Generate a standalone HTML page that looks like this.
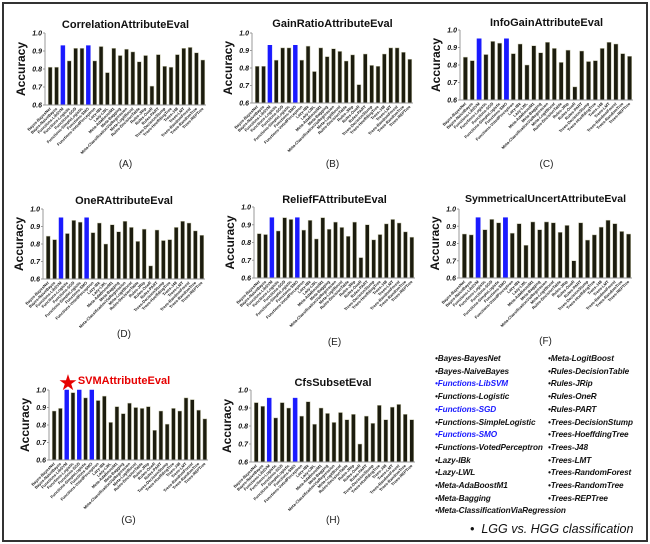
<!DOCTYPE html>
<html><head><meta charset="utf-8">
<style>
body{margin:0;background:#fff;}
#wrap{position:relative;width:650px;height:544px;overflow:hidden;background:#fff;}
#frame{position:absolute;left:2px;top:2px;width:642px;height:536px;border:2px solid #333;}
svg{position:absolute;left:0;top:0;}
.leg{position:absolute;font-family:"Liberation Sans",sans-serif;font-style:italic;font-weight:bold;font-size:8.2px;letter-spacing:-0.1px;color:#111;white-space:nowrap;}
.leg.b{color:#1a1aff;}
</style></head><body>
<div id="wrap">
<div id="frame"></div>
<svg id="svg" width="650" height="544"></svg>
<div id="legend"></div>
<div class="leg" style="left:470px;top:522px;font-size:12.5px;font-weight:normal;letter-spacing:0;">•&nbsp; LGG vs. HGG classification</div>
</div>
<script>
const categories=["Bayes-BayesNet","Bayes-NaiveBayes","Functions-LibSVM","Functions-Logistic","Functions-SGD","Functions-SimpleLogistic","Functions-SMO","Functions-VotedPerceptron","Lazy-IBk","Lazy-LWL","Meta-AdaBoostM1","Meta-Bagging","Meta-ClassificationViaRegression","Meta-LogitBoost","Rules-DecisionTable","Rules-JRip","Rules-OneR","Rules-PART","Trees-DecisionStump","Trees-HoeffdingTree","Trees-J48","Trees-LMT","Trees-RandomForest","Trees-RandomTree","Trees-REPTree"];
const titles=["CorrelationAttributeEval","GainRatioAttributeEval","InfoGainAttributeEval","OneRAttributeEval","ReliefFAttributeEval","SymmetricalUncertAttributeEval","SVMAttributeEval","CfsSubsetEval"];
const panelLabels=["(A)","(B)","(C)","(D)","(E)","(F)","(G)","(H)"];
const yTicks=[0.6,0.7,0.8,0.9,1.0];
const valuesA=[0.81,0.81,0.93,0.845,0.915,0.915,0.93,0.845,0.925,0.78,0.915,0.875,0.91,0.895,0.84,0.875,0.705,0.88,0.815,0.81,0.88,0.915,0.92,0.89,0.85];
const valuesB=[0.81,0.81,0.93,0.845,0.915,0.915,0.93,0.845,0.925,0.78,0.915,0.865,0.91,0.895,0.84,0.875,0.705,0.88,0.815,0.81,0.88,0.915,0.915,0.89,0.85];
const valuesC=[0.845,0.825,0.95,0.86,0.935,0.925,0.95,0.865,0.92,0.8,0.91,0.87,0.93,0.895,0.815,0.885,0.675,0.88,0.82,0.825,0.895,0.93,0.92,0.865,0.85];
const valuesD=[0.845,0.825,0.95,0.86,0.935,0.925,0.95,0.865,0.92,0.8,0.91,0.87,0.93,0.895,0.815,0.885,0.675,0.88,0.82,0.825,0.895,0.93,0.92,0.875,0.85];
const valuesE=[0.85,0.845,0.94,0.865,0.94,0.93,0.94,0.87,0.925,0.82,0.94,0.875,0.915,0.885,0.835,0.915,0.715,0.9,0.815,0.845,0.905,0.93,0.91,0.86,0.83];
const valuesF=[0.855,0.85,0.95,0.88,0.94,0.92,0.95,0.86,0.915,0.79,0.925,0.88,0.925,0.92,0.865,0.905,0.7,0.92,0.82,0.85,0.895,0.935,0.915,0.87,0.855];
const valuesG=[0.88,0.895,1.0,0.985,1.0,0.955,1.0,0.94,0.965,0.815,0.905,0.865,0.925,0.9,0.895,0.905,0.77,0.88,0.805,0.895,0.88,0.955,0.945,0.885,0.835];
const valuesH=[0.93,0.91,0.955,0.845,0.93,0.9,0.955,0.855,0.935,0.81,0.9,0.87,0.82,0.875,0.835,0.865,0.7,0.855,0.815,0.915,0.835,0.905,0.92,0.865,0.835];
const blueA=[2,6],blueB=[2,6],blueC=[2,6],blueD=[2,6],blueE=[2,6],blueF=[2,6],blueG=[2,4,6],blueH=[2,6];
const allValues=[valuesA,valuesB,valuesC,valuesD,valuesE,valuesF,valuesG,valuesH];
const allBlue=[blueA,blueB,blueC,blueD,blueE,blueF,blueG,blueH];
// layout: [axisX, yTop, yBottom, barsEnd, titleY, labelY]
const layouts=[[45,33,105,206,28,167],[252,33,103,413,27,167],[460,30,100,633,26,167],[43,209,279,205,204,337],[254,207,278,415,203,345],[459,209,278,632,202,344],[49,390,460,208,384,523],[251,390,462,415,386,523]];
const NS="http://www.w3.org/2000/svg";
const svg=document.getElementById('svg');
function mk(tag,attrs,parent){const e=document.createElementNS(NS,tag);for(const k in attrs)e.setAttribute(k,attrs[k]);(parent||svg).appendChild(e);return e;}
allValues.forEach((vals,ci)=>{
  const [ax,yt,yb,xe,ty,ly]=layouts[ci];
  const g=mk('g',{});
  
  
  const yScale=v=>yb-(v-0.6)/0.4*(yb-yt);
  const n=categories.length, step=(xe-ax-2)/n, bw=step*0.62;
  const xScale=i=>ax+2+i*step+(step-bw)/2;
  const t=mk('text',{x:(ax+xe)/2,y:ty,'text-anchor':'middle','font-family':'Liberation Sans, sans-serif','font-weight':'bold','font-size':ci==5?'10.5':'11',fill:'#111'},g);
  t.textContent=titles[ci];
  
  
  if(ci==6){
    const s=mk('text',{x:ax+19,y:ty+6,'text-anchor':'middle','font-size':'22',fill:'#e60000','font-family':'DejaVu Sans, sans-serif'},g);
    s.textContent='★';
    
    
    t.setAttribute('fill','#e60000');t.setAttribute('x',ax+75);
  }
  const yl=mk('text',{x:0,y:0,transform:`translate(${ax-20},${(yt+yb)/2}) rotate(-90)`,'text-anchor':'middle','font-family':'Liberation Sans, sans-serif','font-weight':'bold','font-size':'12',fill:'#111'},g);
  yl.textContent='Accuracy';
  
  
  yTicks.forEach(v=>{
    const y=yScale(v);
    mk('line',{x1:ax-2,x2:ax,y1:y,y2:y,stroke:'#999','stroke-width':1},g);
    const tt=mk('text',{x:ax-3,y:y+2.5,'text-anchor':'end','font-family':'Liberation Sans, sans-serif','font-weight':'bold','font-style':'italic','font-size':'7',fill:'#111'},g);
    tt.textContent=v.toFixed(1);
    
    
  });
  vals.forEach((v,i)=>{
    const blue=allBlue[ci].includes(i);
    const r=mk('rect',{x:xScale(i),y:yScale(v),width:bw,height:yb-yScale(v),fill:blue?'#1a1aff':'#1c1c0e',stroke:blue?'#1a1aff':'#c9c9b0','stroke-width':0.5},g);
    
    
    const xl=mk('text',{x:0,y:0,transform:`translate(${xScale(i)+bw/2+1},${yb+4}) rotate(-45)`,'text-anchor':'end','font-family':'Liberation Sans, sans-serif','font-weight':'bold','font-size':'4','fill':'#222'},g);
    xl.textContent=categories[i];
    
    
  });
  mk('line',{x1:ax,x2:ax,y1:yt,y2:yb,stroke:'#999','stroke-width':1},g);
  mk('line',{x1:ax,x2:xe,y1:yb,y2:yb,stroke:'#999','stroke-width':1},g);
  const pl=mk('text',{x:(ax+xe)/2,y:ly,'text-anchor':'middle','font-family':'Liberation Sans, sans-serif','font-size':'10',fill:'#222'},g);
  pl.textContent=panelLabels[ci];
  
  
});
const legend=document.getElementById('legend');
const blueNames=["Functions-LibSVM","Functions-SGD","Functions-SMO"];
categories.forEach((c,i)=>{
  const d=document.createElement('div');
  d.className='leg'+(blueNames.includes(c)?' b':'');
  const col=i<13?0:1, row=i<13?i:i-13;
  d.style.left=(col?548:435)+'px';
  d.style.top=(354+row*12.7)+'px';
  d.textContent='•'+c;
  
  
  legend.appendChild(d);
});
</script>
</body></html>
